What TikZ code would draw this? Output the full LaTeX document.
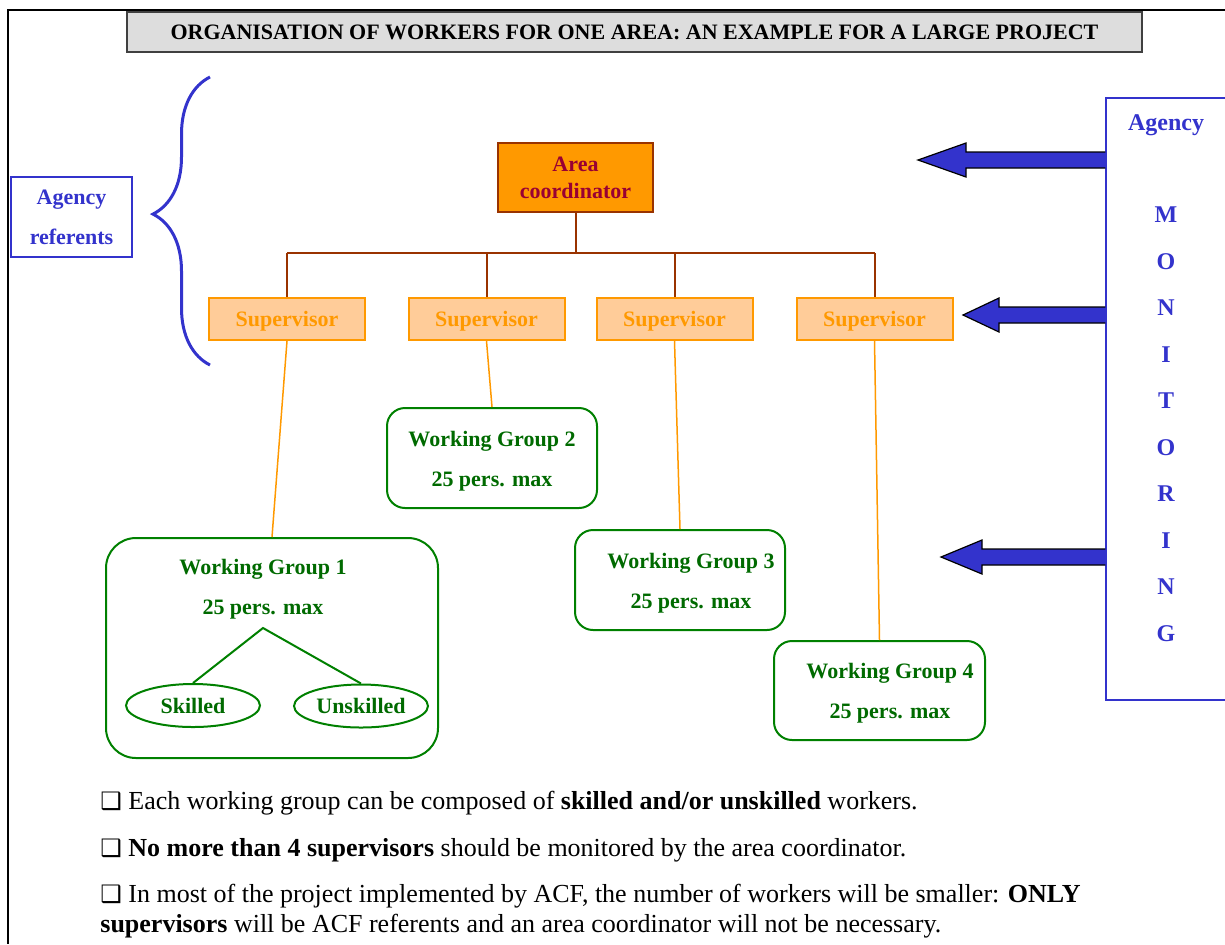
\documentclass[tikz,border=0pt]{standalone}
\usepackage{fontspec}
\setmainfont{Liberation Serif}
\newfontfamily\dingfont{DejaVu Sans}
\usepackage{xcolor}
\usepackage{tikz}
\usetikzlibrary{positioning, shapes.geometric, arrows.meta, calc, decorations.pathreplacing}

\definecolor{coordorange}{HTML}{FF9900}
\definecolor{coordbrown}{HTML}{993300}
\definecolor{coordtext}{HTML}{990033}
\definecolor{supfill}{HTML}{FFCC99}
\definecolor{wggreen}{HTML}{008000}
\definecolor{wgdark}{HTML}{006A00}
\definecolor{agencyblue}{HTML}{3333CC}
\definecolor{titlegray}{HTML}{DDDDDD}

\newcommand{\bul}{{\dingfont\fontsize{12}{12}\selectfont ❑}}

\begin{document}
\begin{tikzpicture}[x=0.5pt, y=-0.5pt,
	titlebox/.style={draw=black!75, fill=titlegray, line width=0.6pt, minimum width=507.5pt, minimum height=20pt, font=\fontsize{11}{13}\selectfont\bfseries},
	refbox/.style={draw=agencyblue, line width=0.6pt, align=center, minimum width=60.5pt, minimum height=40pt, text=agencyblue, font=\fontsize{11}{20}\selectfont\bfseries},
	coordbox/.style={draw=coordbrown, fill=coordorange, line width=1pt, align=center, minimum width=77.5pt, minimum height=34.5pt, text=coordtext, font=\fontsize{11}{13.5}\selectfont\bfseries},
	supbox/.style={draw=coordorange, fill=supfill, line width=1pt, minimum width=78pt, minimum height=21pt, text depth=0pt, text=coordorange, font=\fontsize{11}{13}\selectfont\bfseries},
	wgbox/.style={draw=wggreen, line width=1pt, rounded corners=9pt},
	wgtext/.style={align=center, text=wgdark, font=\fontsize{11}{20}\selectfont\bfseries},
	skillnode/.style={ellipse, draw=wggreen, line width=1pt, inner sep=0pt, minimum width=67pt, minimum height=21.5pt, text=wgdark, font=\fontsize{11}{13}\selectfont\bfseries},
	monbox/.style={draw=agencyblue, line width=0.6pt},
	montext/.style={text=agencyblue, font=\fontsize{12}{14}\selectfont\bfseries},
	monarrow/.style={draw=black, fill=agencyblue, line width=0.6pt, line join=miter},
	orgline/.style={draw=coordbrown, line width=1pt},
	suplink/.style={draw=coordorange, line width=0.75pt},
	note/.style={anchor=base west, inner sep=0pt, font=\fontsize{13}{15}\selectfont}
]
	\useasboundingbox (0,0) rectangle (1225,944);
	\clip (0,0) rectangle (1225,944);

	% Page frame and title
	\draw[line width=1pt] (1225,10) -- (8,10) -- (8,944);
	\node[titlebox] (title) at (634.5,32) {ORGANISATION OF WORKERS FOR ONE AREA: AN EXAMPLE FOR A LARGE PROJECT};

	% Agency referents
	\node[refbox] (referents) at (71.5,217) {Agency\\referents};
	\draw[agencyblue, line width=1.5pt, decorate, decoration={brace, amplitude=28.5pt, aspect=0.524}] (210,365) -- (210,77);

	% Hierarchy
	\node[coordbox] (area) at (575.5,177.5) {Area\\coordinator};

	\node[supbox] (sup1) at (287,319) {Supervisor};
	\node[supbox] (sup2) at (486.5,319) {Supervisor};
	\node[supbox] (sup3) at (674.5,319) {Supervisor};
	\node[supbox] (sup4) at (874.5,319) {Supervisor};

	\coordinate (bus) at (575.5,253);
	\draw[orgline] (area.south) -- (bus);
	\draw[orgline] (sup1.north |- bus) -- (sup4.north |- bus);
	\foreach \s in {sup1,sup2,sup3,sup4}
		\draw[orgline] (\s.north |- bus) -- (\s.north);

	% Working groups
	\node[wgbox, rounded corners=15pt, minimum width=166pt, minimum height=110pt] (wg1) at (272,648) {};
	\node[wgtext] (wg1txt) at (263,589.5) {Working Group 1\\25 pers. max};
	\node[skillnode] (skilled) at (193,705.5) {Skilled};
	\node[skillnode] (unskilled) at (361,706) {Unskilled};
	\coordinate (split) at (263,628);
	\draw[wggreen, line width=1pt] (skilled.north) -- (split) -- (unskilled.north);

	\node[wgbox, minimum width=105pt, minimum height=50pt] (wg2) at (492,458) {};
	\node[wgtext] (wg2txt) at (492,461) {Working Group 2\\25 pers. max};

	\node[wgbox, minimum width=105pt, minimum height=50pt] (wg3) at (680,580) {};
	\node[wgtext] (wg3txt) at (691,583) {Working Group 3\\25 pers. max};

	\node[wgbox, minimum width=105.5pt, minimum height=49.5pt] (wg4) at (879.5,690.5) {};
	\node[wgtext] (wg4txt) at (890,693) {Working Group 4\\25 pers. max};

	\draw[suplink] (sup1.south) -- (wg1.north);
	\draw[suplink] (sup2.south) -- (wg2.north);
	\draw[suplink] (sup3.south) -- (wg3.north);
	\draw[suplink] (sup4.south) -- (wg4.north);

	% Agency monitoring
	\node[monbox, minimum width=69pt, minimum height=301pt] (agency) at (1175,399) {};
	\node[montext] (agencytxt) at (1166,125) {Agency};
	\foreach \ch [count=\i] in {M,O,N,I,T,O,R,I,N,G}
		\node[montext] (mon\i) at (1166,{215+46.5*(\i-1)}) {\ch};

	\foreach \tipx/\tipy/\head [count=\i] in {918/160/48, 963/315/36, 941/557/41} {
		\coordinate (tip\i) at (\tipx,\tipy);
		\draw[monarrow] ($(agency.west |- tip\i)+(0,-8)$) -- ($(tip\i)+(\head,-8)$) -- ($(tip\i)+(\head,-17)$) -- (tip\i) -- ($(tip\i)+(\head,17)$) -- ($(tip\i)+(\head,8)$) -- ($(agency.west |- tip\i)+(0,8)$);
	}

	% Notes
	\node[note] (note1) at (100,809) {\bul\ Each working group can be composed of \textbf{skilled and/or unskilled} workers.};
	\node[note] (note2) at (100,856) {\bul\ \textbf{No more than 4 supervisors} should be monitored by the area coordinator.};
	\node[note] (note3) at (100,902) {\bul\ In most of the project implemented by ACF, the number of workers will be smaller: \textbf{ONLY}};
	\node[note] (note4) at (100,932) {\textbf{supervisors} will be ACF referents and an area coordinator will not be necessary.};
\end{tikzpicture}
\end{document}
